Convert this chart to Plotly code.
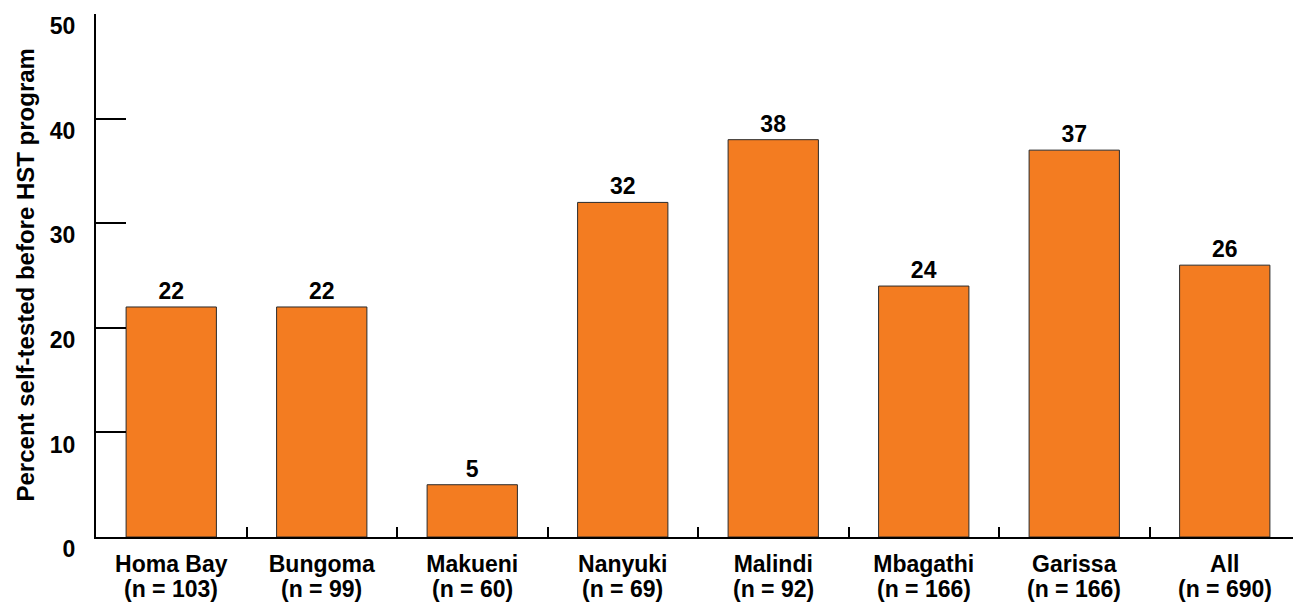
import plotly.graph_objects as go

sites = ["Homa Bay", "Bungoma", "Makueni", "Nanyuki", "Malindi", "Mbagathi", "Garissa", "All"]
n_values = [103, 99, 60, 69, 92, 166, 166, 690]
percent_self_tested = [22, 22, 5, 32, 38, 24, 37, 26]
y_ticks = [0, 10, 20, 30, 40, 50]

FONT = "Arial, 'Liberation Sans', sans-serif"

fig = go.Figure(
    go.Bar(
        x=sites,
        y=percent_self_tested,
        width=0.6,
        marker=dict(color="#F37C21", line=dict(color="#2a2a2a", width=1)),
        text=[f"<b>{v}</b>" for v in percent_self_tested],
        textposition="outside",
        textfont=dict(family=FONT, size=23, color="black"),
        cliponaxis=False,
    )
)

# page body adds an 8px offset, so the figure is sized/margined to compensate
fig.update_layout(
    width=1293,
    height=595,
    margin=dict(l=88, r=1, t=6, b=66),
    paper_bgcolor="white",
    plot_bgcolor="white",
    showlegend=False,
    font=dict(family=FONT, color="black"),
    bargap=0.4,
)

fig.update_xaxes(
    type="category",
    range=[-0.5, 7.5],
    automargin=False,
    tickvals=sites,
    ticktext=[f"<b>{s}</b>" for s in sites],
    showline=True,
    linecolor="black",
    linewidth=2,
    ticks="inside",
    tickson="boundaries",
    ticklen=10,
    tickwidth=2,
    tickcolor="black",
    tickfont=dict(family=FONT, size=23, color="black"),
    ticklabelstandoff=5,
    showgrid=False,
    zeroline=False,
)

fig.update_yaxes(
    range=[0, 50.02],
    automargin=False,
    tickvals=y_ticks,
    ticktext=[f"<b>{t}</b>" for t in y_ticks],
    showline=True,
    linecolor="black",
    linewidth=2,
    ticks="inside",
    ticklen=30,
    tickwidth=2,
    tickcolor="black",
    tickfont=dict(family=FONT, size=23, color="black"),
    ticklabelshift=12,
    ticklabelstandoff=14,
    ticklabeloverflow="allow",
    showgrid=False,
    zeroline=False,
)

# second line of category labels: sample sizes
for s, n in zip(sites, n_values):
    fig.add_annotation(
        text=f"<b>(n = {n})</b>",
        xref="x", yref="paper",
        x=s, y=0,
        yshift=-52,
        xanchor="center", yanchor="middle",
        showarrow=False,
        font=dict(family=FONT, size=23, color="black"),
    )

fig.add_annotation(
    text="<b>Percent self-tested before HST program</b>",
    xref="paper", yref="paper",
    x=0, y=0.5,
    xshift=-71,
    xanchor="center", yanchor="middle",
    textangle=-90,
    showarrow=False,
    font=dict(family=FONT, size=24, color="black"),
)

fig.write_html("out.html")
